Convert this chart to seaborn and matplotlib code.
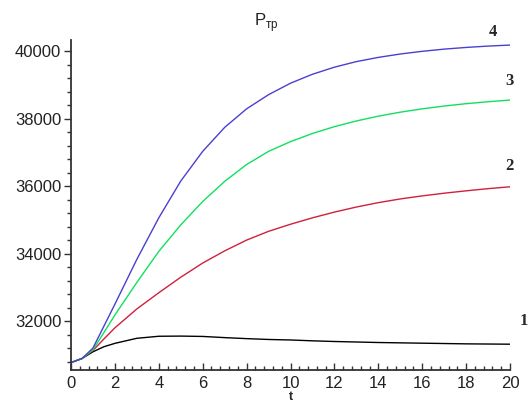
import numpy as np
import pandas as pd
import matplotlib
matplotlib.use("Agg")
import matplotlib.pyplot as plt
from matplotlib.ticker import MultipleLocator
import seaborn as sns

# time points and the four curves
t = [0, 0.5, 1, 1.5, 2, 3, 4, 5, 6, 7, 8, 9, 10, 11, 12, 13, 14, 15, 16, 17, 18, 19, 20]
curve1 = [30770, 30890, 31090, 31240, 31340, 31490, 31550, 31555, 31545, 31510, 31480,
          31455, 31440, 31415, 31395, 31380, 31365, 31355, 31345, 31335, 31325, 31320, 31315]
curve2 = [30770, 30890, 31130, 31470, 31800, 32360, 32840, 33300, 33720, 34080, 34400,
          34660, 34870, 35060, 35230, 35380, 35510, 35620, 35710, 35790, 35860, 35925, 35980]
curve3 = [30770, 30890, 31150, 31660, 32180, 33145, 34065, 34850, 35545, 36140, 36640,
          37030, 37318, 37560, 37762, 37931, 38073, 38191, 38290, 38373, 38443, 38501, 38550]
curve4 = [30770, 30890, 31200, 31850, 32500, 33830, 35060, 36150, 37030, 37740, 38290,
          38710, 39050, 39315, 39525, 39690, 39815, 39915, 39995, 40060, 40110, 40150, 40180]
labels = ["1", "2", "3", "4"]
colors = ["#000000", "#d0203c", "#10e060", "#4a3fd0"]

frames = []
for lab, vals in zip(labels, [curve1, curve2, curve3, curve4]):
    frames.append(pd.DataFrame({"t": t, "P": vals, "curve": lab}))
df = pd.concat(frames, ignore_index=True)

sns.set_style("white")
plt.rcParams["font.family"] = ["Liberation Sans", "DejaVu Sans"]

fig = plt.figure(figsize=(5.29, 4.05), dpi=100)
ax = fig.add_axes([0.1342, 0.0864, 0.8299, 0.8148])

sns.lineplot(data=df, x="t", y="P", hue="curve", palette=colors,
             linewidth=1.0, legend=False, ax=ax)

ax.set_xlim(0, 20)
ax.set_ylim(30550, 40330)

for s in ["top", "right"]:
    ax.spines[s].set_visible(False)
for s in ["left", "bottom"]:
    ax.spines[s].set_color("#333333")
    ax.spines[s].set_linewidth(1.3)

ax.xaxis.set_major_locator(MultipleLocator(2))
ax.xaxis.set_minor_locator(MultipleLocator(0.4))
ax.yaxis.set_major_locator(MultipleLocator(2000))
ax.yaxis.set_minor_locator(MultipleLocator(400))
ax.tick_params(axis="x", which="major", direction="in", length=5, width=1,
               labelsize=12, pad=4, bottom=True, colors="#333333")
ax.tick_params(axis="x", which="minor", direction="in", length=3, width=1, bottom=True,
               colors="#333333")
ax.tick_params(axis="y", which="major", direction="out", length=5, width=1,
               labelsize=12, pad=2, left=True, colors="#333333")
ax.tick_params(axis="y", which="minor", direction="out", length=3, width=1, left=True,
               colors="#333333")
for lbl in ax.get_xticklabels() + ax.get_yticklabels():
    lbl.set_color("#222222")

ax.set_xlabel("t", fontsize=9, fontweight="bold", labelpad=0)
ax.set_ylabel("")
ax.set_title("P$_{\\mathregular{тр}}$", fontsize=12, pad=10, color="#222222", x=0.444)

# curve numbers at the right end
num_pos = {"4": (19.24, 40580), "3": (19.97, 39110), "2": (19.97, 36600), "1": (20.62, 31990)}
for lab, (x, y) in num_pos.items():
    ax.text(x, y, lab, fontsize=12, fontweight="bold", family="Liberation Serif",
            ha="center", va="center", clip_on=False)

fig.savefig("out.png", dpi=100)
